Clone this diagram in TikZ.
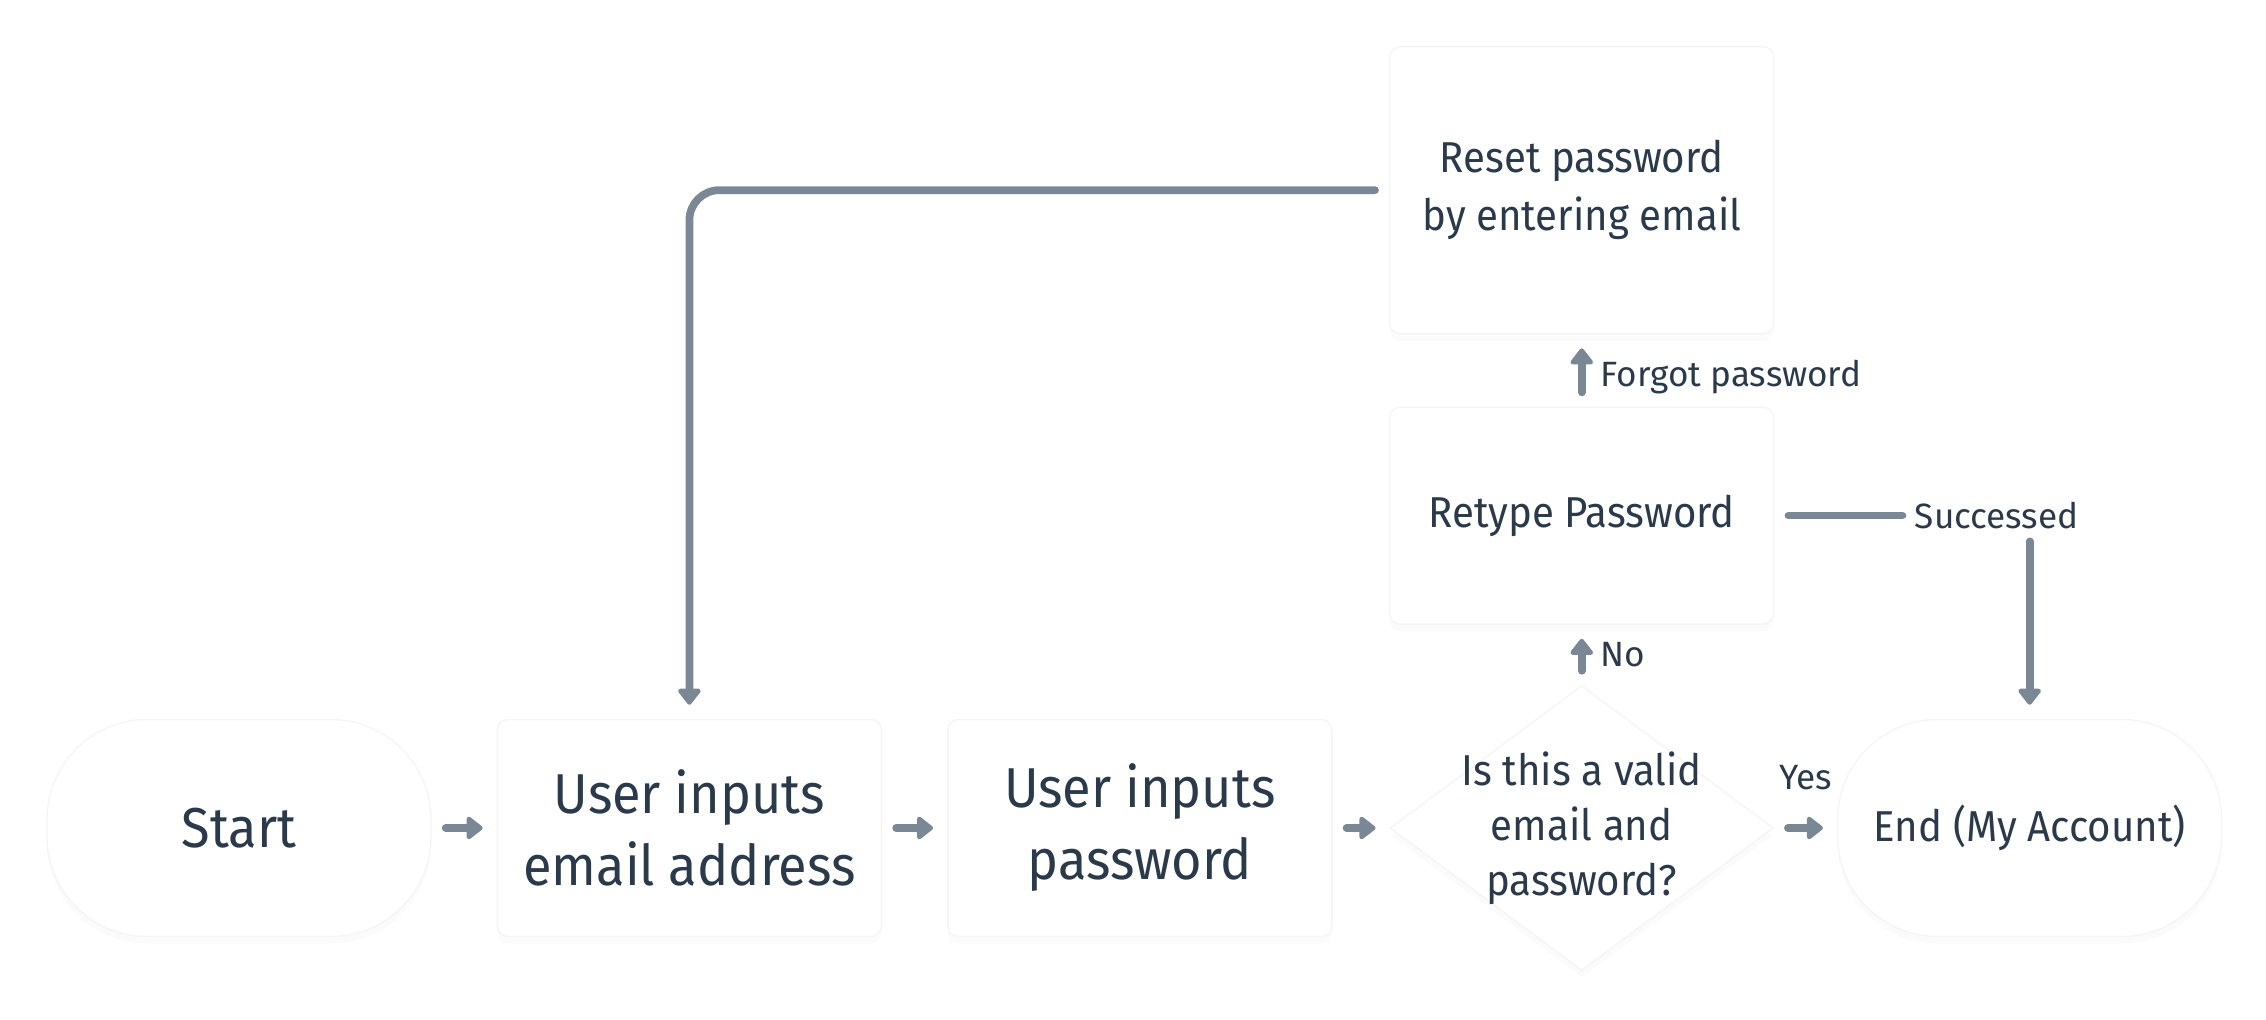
\documentclass[tikz,border=0pt]{standalone}
\usepackage{fontspec}
\setmainfont{Fira Sans}
\newfontfamily\boxfont[FakeStretch=0.93]{Fira Sans}
\usetikzlibrary{positioning, arrows.meta, shapes.geometric, shadows}
\definecolor{ink}{HTML}{2B3A4A}
\definecolor{flow}{HTML}{7A8896}

\begin{document}
\begin{tikzpicture}[
    node distance=0.65cm,
    softshadow/.style={drop shadow={opacity=0.035, shadow xshift=0pt, shadow yshift=-2pt}},
    card/.style={rectangle, rounded corners=3pt, fill=white, draw=black!4, softshadow,
        text=ink, align=center, minimum width=3.84cm, minimum height=2.17cm},
    terminal/.style={card, rounded corners=1cm},
    decision/.style={diamond, fill=white, draw=black!4, softshadow, inner sep=0pt,
        minimum width=3.83cm, minimum height=2.85cm},
    bigtext/.style={font=\boxfont\fontsize{16}{20.5}\selectfont},
    smalltext/.style={font=\boxfont\fontsize{12.3}{16.5}\selectfont},
    flowline/.style={draw=flow, line width=2.2pt, line cap=round,
        shorten <=0.14cm, shorten >=0.14cm},
    flowarrow/.style={flowline, -{Triangle[width=7.4pt, length=5pt, round]}},
    edgelabel/.style={text=ink, font=\fontsize{10}{11}\selectfont},
]
    \useasboundingbox (0,0) rectangle (22.66,10.20);

    % main row
    \node[terminal, bigtext] (start) at (2.39,1.92) {Start};
    \node[card, bigtext, right=of start] (email) {User inputs\\email address};
    \node[card, bigtext, right=of email] (pass) {User inputs\\password};
    \node[decision, right=0.57cm of pass,
        label={[text=ink, align=center, font=\boxfont\fontsize{12.3}{15.6}\selectfont]center:{Is this a valid\\email and\\password?}}] (valid) {};
    \node[terminal, smalltext, right=0.63cm of valid] (end) {End (My Account)};

    % retry column
    \node[card, smalltext, above=0.6cm of valid] (retype) {Retype Password};
    \node[card, smalltext, above=0.72cm of retype, minimum height=2.87cm] (reset) {Reset password\\by entering email};
    \node[edgelabel, anchor=west] (succ) at ([xshift=1.28cm]retype.east) {Successed};

    % connectors
    \draw[flowarrow] (start) -- (email);
    \draw[flowarrow] (email) -- (pass);
    \draw[flowarrow] (pass) -- (valid);
    \draw[flowarrow] (valid) -- node[edgelabel, above=0.22cm] (yeslbl) {Yes} (end);
    \draw[flowarrow] (valid) -- node[edgelabel, right=1pt] (nolbl) {No} (retype);
    \draw[flowarrow] (retype) -- node[edgelabel, right=1pt, yshift=-2pt] (forgotlbl) {Forgot password} (reset);
    \draw[flowline, shorten >=0pt] (retype.east) -- (succ.west);
    \draw[flowarrow, shorten <=0pt] (succ.south -| end.north) -- (end.north);
    \draw[flowarrow, rounded corners=0.3cm] (reset.west) -| (email.north);
\end{tikzpicture}
\end{document}
